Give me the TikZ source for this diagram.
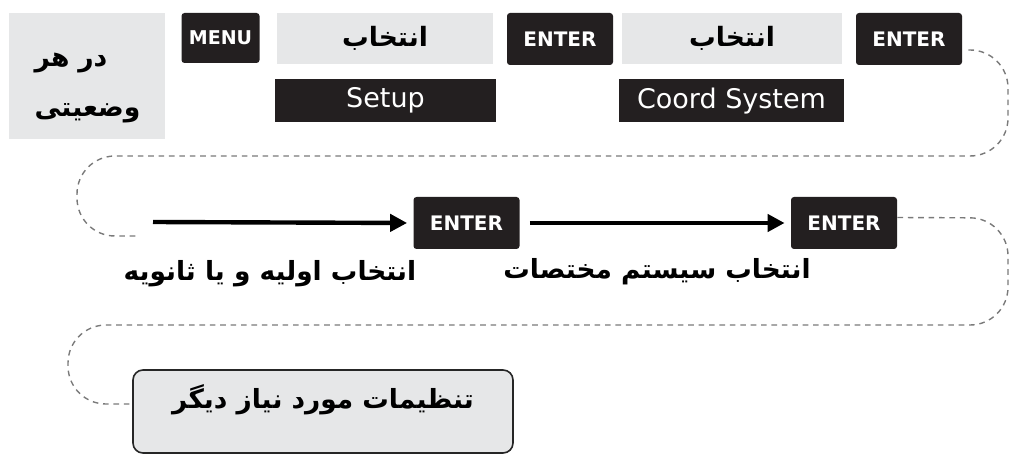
\documentclass[tikz,border=0pt]{standalone}
\usepackage{fontspec}
\setmainfont{DejaVu Sans}
\newfontfamily\fafont[Script=Arabic]{DejaVu Sans}
\TeXXeTstate=1
\usetikzlibrary{arrows.meta}

\definecolor{keyblack}{HTML}{231F20}
\definecolor{panelgray}{HTML}{E6E7E8}
\definecolor{dashgray}{HTML}{7A7A7A}
\newcommand{\fa}[1]{{\fafont\bfseries\beginR #1\endR}}

\begin{document}
\begin{tikzpicture}[x=0.5pt,y=-0.5pt,
  keybox/.style={fill=keyblack, rounded corners=1.5pt, text=white, inner sep=0pt,
    font=\bfseries\fontsize{10}{12}\selectfont, minimum width=53pt, minimum height=26pt},
  pickbox/.style={fill=panelgray, inner sep=0pt, minimum height=25.5pt,
    font=\fontsize{13.3}{16}\selectfont},
  namebox/.style={fill=keyblack, text=white, inner sep=0pt, minimum height=21.5pt,
    font=\fontsize{13.5}{15}\selectfont},
  steplabel/.style={inner sep=0pt, font=\fontsize{13.2}{16}\selectfont},
  flow/.style={draw=dashgray, line width=0.7pt, dash pattern=on 2.8pt off 2.4pt, rounded corners=19pt},
  push/.style={line width=2.2pt, -{Triangle[length=8.5pt,width=8.5pt]}, shorten >=3pt}]
  \useasboundingbox (0,0) rectangle (1011,454);

  % first row
  \node[fill=panelgray, minimum width=78pt, minimum height=63pt, text width=52.5pt,
    align=left, inner sep=0pt, font=\fontsize{13.3}{25}\selectfont] (state) at (87,76)
    {\rule{0pt}{19pt}\fa{در هر}\\\fa{وضعیتی}};
  \node[keybox, minimum width=39pt, minimum height=25pt, font=\bfseries\fontsize{9.5}{11}\selectfont]
    (menu) at (220.5,38) {MENU};
  \node[pickbox, minimum width=108pt] (pickA) at (385,38.5) {\fa{انتخاب}\hspace{9pt}};
  \node[namebox, minimum width=110.5pt] (setup) at (385.5,100.5) {Setup};
  \node[keybox] (enterA) at (560,39) {ENTER};
  \node[pickbox, minimum width=110pt] (pickB) at (732,38.5) {\fa{انتخاب}\hspace{9pt}};
  \node[namebox, minimum width=112.5pt] (coord) at (731.5,101) {Coord System};
  \node[keybox] (enterB) at (909,39) {ENTER};

  % second row
  \coordinate (startA) at (153,222);
  \coordinate (endA) at (138,236);
  \node[keybox] (enterC) at (466.5,223) {ENTER};
  \node[keybox] (enterD) at (844,223) {ENTER};
  \node[steplabel] (labC) at (270,274) {\fa{انتخاب اولیه و یا ثانویه}};
  \node[steplabel] (labD) at (657,272) {\fa{انتخاب سیستم مختصات}};

  % last step
  \node[fill=panelgray, draw=black!85, line width=0.8pt, rounded corners=5pt,
    minimum width=190pt, inner ysep=0pt, text height=19pt, text depth=22.5pt,
    font=\fontsize{13.2}{16}\selectfont] (other) at (323,411.5) {\fa{تنظیمات مورد نیاز دیگر}\hspace{14pt}};

  % connectors
  \draw[flow] ([xshift=3pt,yshift=-5.5pt]enterB.east) -- (1008,50) -- (1008,156)
    -- (77,156) -- (77,236) -- (endA);
  \draw[push] (startA) -- (enterC.west);
  \draw[push] ([xshift=5pt]enterC.east) -- (enterD.west);
  \draw[flow] ([yshift=2.75pt]enterD.east) -- (1008,218) -- (1008,325)
    -- (68,325) -- (68,404) -- ([yshift=3.75pt]other.west);
\end{tikzpicture}
\end{document}
